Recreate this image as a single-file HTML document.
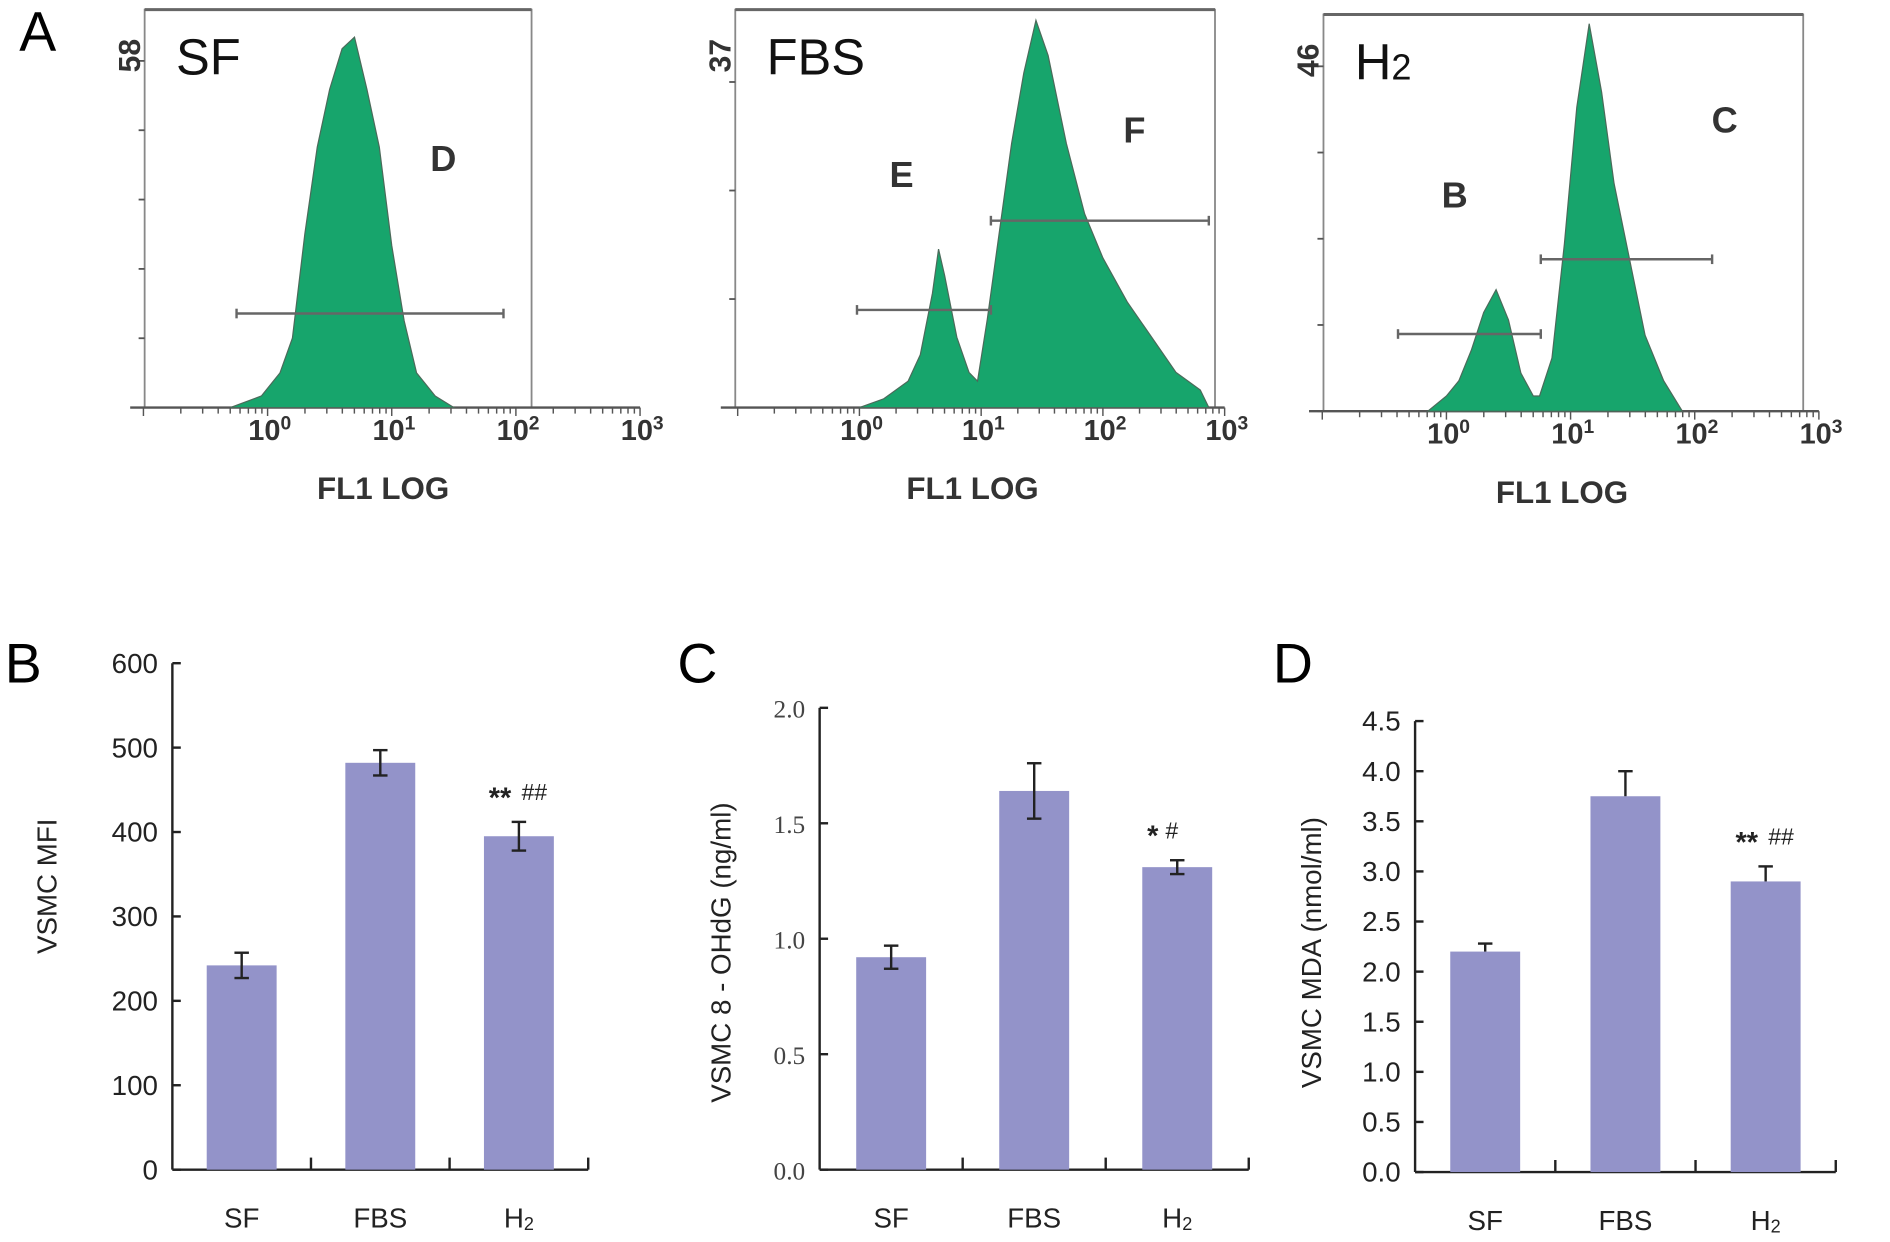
<!DOCTYPE html>
<html><head><meta charset="utf-8"><style>
html,body{margin:0;padding:0;background:#fff;}
svg{display:block;font-family:"Liberation Sans",sans-serif;}
</style></head><body>
<svg id="fig" width="1890" height="1242" viewBox="0 0 1568 1030" preserveAspectRatio="none" xmlns="http://www.w3.org/2000/svg">
<text x="16" y="42" font-size="46">A</text>
<text x="4" y="566" font-size="46">B</text>
<text x="562" y="566" font-size="46">C</text>
<text x="1056" y="566" font-size="46">D</text>
</svg>
<script>
// ---- histogram data (log10 position, counts) ----
const sfLog = [-0.3,-0.05,0.1,0.2,0.3,0.4,0.5,0.6,0.7,0.8,0.9,1.0,1.1,1.2,1.35,1.5];
const sfCnt = [0,2,6,12,30,45,55,62,64,55,45,28,15,6,2,0];
const fbsLog = [0.0,0.2,0.4,0.5,0.6,0.65,0.7,0.8,0.9,0.97,1.05,1.15,1.25,1.35,1.45,1.55,1.7,1.85,2.0,2.2,2.4,2.6,2.8,2.87];
const fbsCnt = [0,1,3,6,13,18,15,8,4,3,10,20,30,38,44,40,30,22,17,12,8,4,2,0];
const h2Log = [-0.15,0.0,0.1,0.2,0.3,0.4,0.5,0.6,0.7,0.75,0.85,0.95,1.05,1.15,1.25,1.35,1.5,1.6,1.75,1.9];
const h2Cnt = [0,2,4,8,13,16,12,5,2,2,7,22,40,51,42,30,18,10,4,0];
const decadeLabels = ["0","1","2","3"];
// ---- bar chart data ----
const categories = ["SF","FBS","H\u2082"];
const mfiVals = [242,482,395];
const mfiErr = [15,15,17];
const ohdgVals = [0.92,1.64,1.31];
const ohdgErr = [0.05,0.12,0.03];
const mdaVals = [2.2,3.75,2.9];
const mdaErr = [0.08,0.25,0.15];
const mfiTicks = [0,100,200,300,400,500,600];
const ohdgTicks = ["0.0","0.5","1.0","1.5","2.0"];
const mdaTicks = ["0.0","0.5","1.0","1.5","2.0","2.5","3.0","3.5","4.0","4.5"];

const NS="http://www.w3.org/2000/svg";
const svg=document.getElementById('fig');
function el(tag,attrs,parent){const e=document.createElementNS(NS,tag);for(const k in attrs)e.setAttribute(k,attrs[k]);(parent||svg).appendChild(e);return e;}
function txt(x,y,s,attrs,parent){const t=el('text',Object.assign({x:x,y:y},attrs),parent);t.textContent=s;return t;}

function flow(cfg){
  const g=el('g',{});
  
  
  const xs=l=>cfg.x0+l*cfg.dec;
  const ys=c=>cfg.base-c*cfg.ppc;
  el('rect',{x:cfg.bx,y:cfg.top,width:cfg.bw,height:cfg.base-cfg.top,fill:'none',stroke:'#888','stroke-width':1.5},g);
  el('line',{x1:cfg.bx,y1:cfg.top,x2:cfg.bx+cfg.bw,y2:cfg.top,stroke:'#666','stroke-width':2.5},g);
  el('line',{x1:cfg.bx-12,y1:cfg.base,x2:xs(3),y2:cfg.base,stroke:'#555','stroke-width':2},g);
  for(let d=-1;d<3;d++){for(let m=1;m<10;m++){const l=d+Math.log10(m);if(l<-1)continue;const x=xs(l);if(x<cfg.bx-5)continue;el('line',{x1:x,y1:cfg.base,x2:x,y2:cfg.base+(m==1?7:5),stroke:'#555','stroke-width':1.2},g);}}
  el('line',{x1:xs(3),y1:cfg.base,x2:xs(3),y2:cfg.base+7,stroke:'#555','stroke-width':1.2},g);
  decadeLabels.forEach((s,i)=>{const t=txt(xs(i)-16,cfg.base+27,'10',{'font-size':24,'font-weight':'bold',fill:'#333'},g);
    const ts=el('tspan',{dy:-9,'font-size':16},t);ts.textContent=s;});
  for(let k=0;k<=5;k++){const y=cfg.base-k*cfg.ytick;el('line',{x1:cfg.bx,y1:y,x2:cfg.bx-5,y2:y,stroke:'#555','stroke-width':1.5},g);}
  txt(0,0,cfg.max,{'font-size':25,'font-weight':'bold',fill:'#333',transform:`translate(${cfg.bx-4},${cfg.top+52}) rotate(-90)`},g);
  let d=`M${xs(cfg.logs[0])},${cfg.base}`;
  cfg.logs.forEach((l,i)=>{d+=` L${xs(l)},${ys(cfg.cnts[i])}`;});
  d+=` L${xs(cfg.logs[cfg.logs.length-1])},${cfg.base} Z`;
  const p=el('path',{d:d,fill:'#17a56c',stroke:'#4b6a5a','stroke-width':1},g);
  
  
  cfg.gates.forEach(gt=>{
    const x1=xs(gt[0]),x2=xs(gt[1]),y=gt[2];
    el('line',{x1:x1,y1:y,x2:x2,y2:y,stroke:'#666','stroke-width':2},g);
    el('line',{x1:x1,y1:y-4,x2:x1,y2:y+4,stroke:'#666','stroke-width':2},g);
    el('line',{x1:x2,y1:y-4,x2:x2,y2:y+4,stroke:'#666','stroke-width':2},g);
    txt(gt[3],gt[4],gt[5],{'font-size':30,'font-weight':'bold',fill:'#333'},g);
  });
  const tl=txt(cfg.bx+26,cfg.top+54,cfg.title,{'font-size':42,fill:'#111'},g);
  if(cfg.sub){const ts=el('tspan',{'font-size':30},tl);ts.textContent=cfg.sub;}
  txt(xs(1)-62,cfg.base+76,'FL1 LOG',{'font-size':26,'font-weight':'bold',fill:'#333'},g);
}
flow({name:'histogram-sf',x0:222,dec:103,bx:120,bw:321,top:8,base:338,ppc:4.8,ytick:57.5,max:'58',logs:sfLog,cnts:sfCnt,
  gates:[[-0.25,1.9,260,357,142,'D']],title:'SF'});
flow({name:'histogram-fbs',x0:713,dec:101,bx:610,bw:398,top:8,base:338,ppc:7.3,ytick:90,max:'37',logs:fbsLog,cnts:fbsCnt,
  gates:[[-0.02,1.08,257,738,155,'E'],[1.08,2.87,183,932,118,'F']],title:'FBS'});
flow({name:'histogram-h2',x0:1200,dec:103,bx:1098,bw:398,top:12,base:341,ppc:6.3,ytick:71.5,max:'46',logs:h2Log,cnts:h2Cnt,
  gates:[[-0.39,0.76,277,1196,172,'B'],[0.76,2.14,215,1420,110,'C']],title:'H',sub:'2'});

function bars(cfg){
  const g=el('g',{});
  
  
  const ys=v=>cfg.y0-(v/cfg.max)*(cfg.y0-cfg.ytop);
  el('line',{x1:cfg.ax,y1:cfg.ytop,x2:cfg.ax,y2:cfg.y0,stroke:'#222','stroke-width':2},g);
  el('line',{x1:cfg.ax,y1:cfg.y0,x2:cfg.xend,y2:cfg.y0,stroke:'#222','stroke-width':2},g);
  const n=cfg.ticks.length;
  cfg.ticks.forEach((t,i)=>{const v=cfg.max*i/(n-1);const y=ys(v);
    el('line',{x1:cfg.ax,y1:y,x2:cfg.ax+7,y2:y,stroke:'#222','stroke-width':2},g);
    const a={'font-size':cfg.serif?21:23,'text-anchor':'end',fill:cfg.serif?'#444':'#222',style:cfg.serif?'font-family:"Liberation Serif",serif':''};
    txt(cfg.ax-12,y+8,String(t),a,g);});
  const step=(cfg.xend-cfg.ax)/3;
  for(let k=1;k<=3;k++){const x=cfg.ax+k*step;el('line',{x1:x,y1:cfg.y0,x2:x,y2:cfg.y0-10,stroke:'#222','stroke-width':2},g);}
  categories.forEach((c,i)=>{
    const cx=cfg.ax+(i+0.5)*step;
    const r=el('rect',{x:cx-29,y:ys(cfg.vals[i]),width:58,height:cfg.y0-ys(cfg.vals[i]),fill:'#9393c9'},g);
    
    
    const yt=ys(cfg.vals[i]+cfg.errs[i]), yb=cfg.upOnly?ys(cfg.vals[i]):ys(cfg.vals[i]-cfg.errs[i]);
    el('line',{x1:cx,y1:yt,x2:cx,y2:yb,stroke:'#222','stroke-width':2},g);
    el('line',{x1:cx-6,y1:yt,x2:cx+6,y2:yt,stroke:'#222','stroke-width':2},g);
    if(!cfg.upOnly)el('line',{x1:cx-6,y1:yb,x2:cx+6,y2:yb,stroke:'#222','stroke-width':2},g);
    if(i==2){txt(cx-25,yt-12,cfg.sig[0],{'font-size':24,'font-weight':'bold',fill:'#222'},g);
      txt(cx-25+cfg.sig[0].length*12+3,yt-18,cfg.sig[1],{'font-size':19,fill:'#222','font-style':'italic'},g);}
    const lt=txt(cx,cfg.y0+48,c==="H\u2082"?"H":c,{'font-size':23,'text-anchor':'middle',fill:'#222'},g);
    if(c==="H\u2082"){const ts=el('tspan',{'font-size':15,dy:2},lt);ts.textContent='2';}
  });
  txt(0,0,cfg.ylabel,{'font-size':23,fill:'#222','text-anchor':'middle',transform:`translate(${cfg.ax-cfg.labOff},${cfg.ylabY}) rotate(-90)`},g);
}
bars({name:'chart-mfi',ax:143,xend:488,y0:970,ytop:550,max:600,ticks:mfiTicks,vals:mfiVals,errs:mfiErr,ylabel:'VSMC MFI',ylabY:735,labOff:96,sig:['**','##']});
bars({name:'chart-ohdg',ax:680,xend:1036,y0:970,ytop:587,max:2.0,ticks:ohdgTicks,vals:ohdgVals,errs:ohdgErr,ylabel:'VSMC 8 - OHdG (ng/ml)',ylabY:790,labOff:74,serif:true,sig:['*','#']});
bars({name:'chart-mda',ax:1174,xend:1523,y0:972,ytop:598,max:4.5,ticks:mdaTicks,vals:mdaVals,errs:mdaErr,ylabel:'VSMC MDA (nmol/ml)',ylabY:790,labOff:78,upOnly:true,sig:['**','##']});
</script>
</body></html>
